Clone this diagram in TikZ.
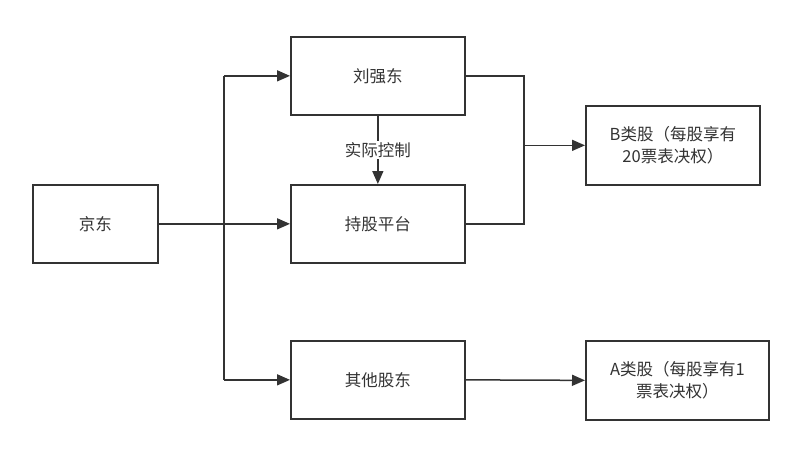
\documentclass[tikz,border=0pt]{standalone}
\usepackage{fontspec}
\setmainfont{Noto Sans CJK SC}
\usetikzlibrary{arrows.meta}
\definecolor{ln}{HTML}{333333}
\definecolor{tx}{HTML}{333333}
\tikzset{
  box/.style={draw=ln, line width=1.7pt, fill=white, minimum width=174pt, minimum height=78pt, inner sep=0pt, text=tx, font=\fontsize{16.5}{22}\selectfont, align=center, anchor=north west},
  conn/.style={draw=ln, line width=1.5pt},
  arr/.style={conn, -{Triangle[length=13pt,width=11pt]}},
}
\begin{document}
\begin{tikzpicture}[x=1pt,y=-1pt]
\useasboundingbox[fill=white] (0,0) rectangle (800,455);
\node[box, minimum width=125pt] (jd) at (32,184) {京东};
\node[box] (lqd) at (290,36) {刘强东};
\node[box] (pt) at (290,184) {持股平台};
\node[box] (qt) at (290,340) {其他股东};
\node[box, minimum height=79pt] (b) at (585,105) {B类股（每股享有\\20票表决权）};
\node[box, minimum width=183pt, minimum height=79pt] (a) at (585,340) {A类股（每股享有1\\票表决权）};
\coordinate (trunk) at (224,0);
\coordinate (merge) at (524,0);
% from 京东
\draw[arr] (jd.east) -- (pt.west);
\draw[arr] (trunk |- lqd.west) -- (lqd.west);
\draw[arr] (trunk |- qt.west) -- (qt.west);
\draw[conn] (trunk |- lqd.west) -- (trunk |- qt.west);
% control
\draw[arr] (lqd.south) -- node[fill=white, text=tx, font=\fontsize{16.5}{20}\selectfont, inner sep=1pt] (lbl) {实际控制} (pt.north);
% to B
\draw[conn] (lqd.east) -- (merge |- lqd.east) -- (merge |- pt.east) -- (pt.east);
\draw[arr] (merge |- b.west) -- (b.west);
% to A
\draw[arr] (qt.east) -- (a.west);
\end{tikzpicture}
\end{document}
